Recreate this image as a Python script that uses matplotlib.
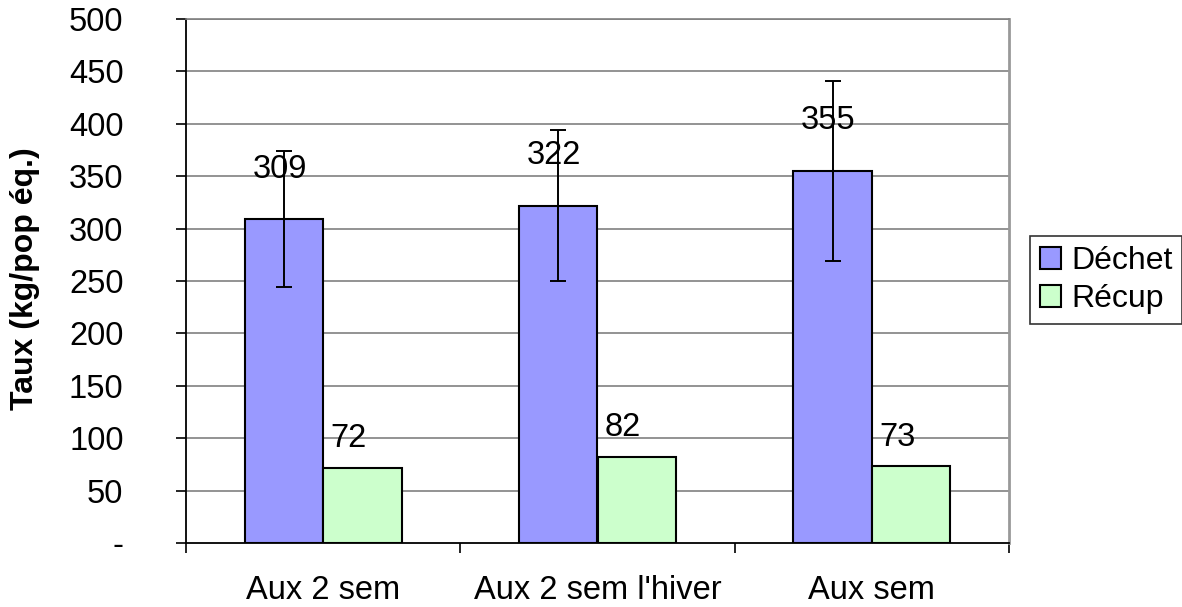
import numpy as np
import matplotlib
matplotlib.use('Agg')
import matplotlib.pyplot as plt
from matplotlib.ticker import FixedLocator

# Data
categories = ['Aux 2 sem', "Aux 2 sem l'hiver", 'Aux sem']
dechet = [309, 322, 355]
dechet_err = [65, 72, 86]
recup = [72, 82, 73]
y_ticks = [0, 50, 100, 150, 200, 250, 300, 350, 400, 450, 500]
y_tick_labels = ['-'] + [str(v) for v in y_ticks[1:]]

plt.rcParams['font.family'] = ['Liberation Sans', 'DejaVu Sans']
FS = 23.5

fig = plt.figure(figsize=(11.82, 6.07), dpi=100)
ax = fig.add_axes([186 / 1182, 1 - 543 / 607, (1009 - 186) / 1182, (543 - 19) / 607])

x = np.arange(len(categories))
w = 0.2857

# Gridlines
for v in y_ticks[1:]:
    ax.axhline(v, color='#808080', lw=1.2, zorder=0)

b1 = ax.bar(x - w / 2, dechet, w, color='#9999FF', edgecolor='black', lw=1.5,
            label='Déchet', zorder=2)
b2 = ax.bar(x + w / 2, recup, w, color='#CCFFCC', edgecolor='black', lw=1.5,
            label='Récup', zorder=2)
ax.errorbar(x - w / 2, dechet, yerr=dechet_err, fmt='none', ecolor='black',
            elinewidth=1.4, capsize=5.5, capthick=1.4, zorder=3)

# Data labels
for xi, v in zip(x - w / 2, dechet):
    ax.annotate(str(v), (xi, v), xytext=(-3, 36), textcoords='offset points',
                ha='center', va='center', fontsize=FS, zorder=4)
for xi, v in zip(x + w / 2, recup):
    ax.annotate(str(v), (xi, v), xytext=(-10, 21), textcoords='offset points',
                ha='center', va='center', fontsize=FS, zorder=4)

ax.set_xlim(-0.5, len(categories) - 0.5)
ax.set_ylim(0, 500)
ax.set_yticks(y_ticks)
ax.set_yticklabels(y_tick_labels, fontsize=FS)
ax.xaxis.set_major_locator(FixedLocator(np.arange(len(categories) + 1) - 0.5))
ax.set_xticklabels([])
ax.xaxis.set_minor_locator(FixedLocator(x))
ax.set_xticklabels(categories, minor=True, fontsize=FS)
ax.tick_params(axis='x', which='minor', length=0, pad=23)
ax.tick_params(axis='x', which='major', length=7, width=1.2, direction='out')
ax.tick_params(axis='y', length=7, width=1.2, direction='out', pad=38)

ax.spines['left'].set_color('black')
ax.spines['left'].set_linewidth(1.3)
ax.spines['bottom'].set_color('black')
ax.spines['bottom'].set_linewidth(1.3)
ax.spines['top'].set_color('#808080')
ax.spines['top'].set_linewidth(1.2)
ax.spines['right'].set_color('#999999')
ax.spines['right'].set_linewidth(2)

fig.text(25 / 1182, 1 - 279 / 607, 'Taux (kg/pop éq.)', rotation=90,
         ha='center', va='center', fontsize=23, fontweight='bold')

leg = fig.legend(handles=[b1, b2], loc='center left',
                 bbox_to_anchor=(1030 / 1182, 1 - 280 / 607), fontsize=23,
                 frameon=True, fancybox=False, handlelength=0.68, handleheight=0.68,
                 handletextpad=0.3, borderpad=0.3, labelspacing=0.25, borderaxespad=0)
leg.get_frame().set_edgecolor('black')
leg.get_frame().set_linewidth(1.2)

fig.savefig('out.png', dpi=100)
